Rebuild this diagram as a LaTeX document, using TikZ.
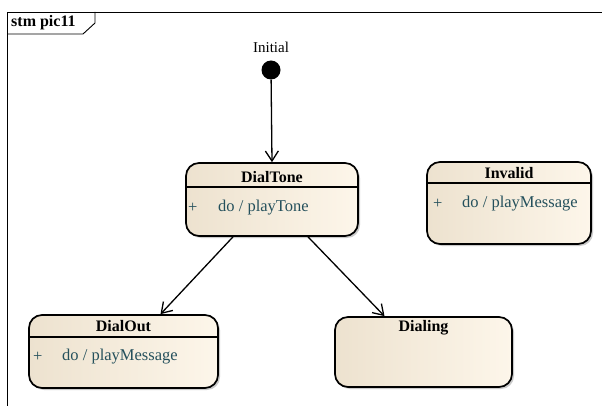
\documentclass[tikz,border=0pt]{standalone}
\usepackage{fontspec}
\setmainfont{Liberation Serif}
\usepackage{tikz}
\usetikzlibrary{arrows.meta,shadows,positioning}

\definecolor{stateleft}{HTML}{EDE2CF}
\definecolor{stateright}{HTML}{FDF6EA}
\definecolor{optext}{HTML}{24505C}

\tikzset{
  state/.style={draw, line width=1.7pt, rounded corners=13pt, inner sep=0pt,
    left color=stateleft, right color=stateright,
    drop shadow={shadow xshift=2pt, shadow yshift=-2pt, opacity=0.35, fill=black!60}},
  statename/.style={font=\fontsize{16}{19}\selectfont\bfseries, inner sep=0pt},
  opline/.style={font=\fontsize{16.5}{19}\selectfont, text=optext, inner sep=0pt, anchor=west},
  trans/.style={line width=1.3pt, -{Straight Barb[length=10pt,width=13pt,line width=1.3pt]}}
}

\begin{document}
\begin{tikzpicture}[x=1pt,y=-1pt]
			\useasboundingbox (0,0) rectangle (602,406);

			% frame
			\draw[line width=0.9pt] (7,406) -- (7,12) -- (602,12);
			\draw[line width=0.9pt] (7,34) -- (83,34) -- (95,23) -- (95,12);
			\node[font=\fontsize{16}{19}\selectfont\bfseries, anchor=west, inner sep=0pt] (frametitle) at (11,23) {stm pic11};

			% initial
			\node[circle, fill=black, minimum size=19pt, inner sep=0pt] (init) at (271,70) {};
			\node[font=\fontsize{15}{18}\selectfont, inner sep=0pt] (initlabel) at (271,47) {Initial};

			% states
			\node[state, minimum width=172pt, minimum height=73pt] (dialtone) at (272,199.5) {};
			\node[state, minimum width=164pt, minimum height=82pt] (invalid) at (509,203) {};
			\node[state, minimum width=189pt, minimum height=73pt] (dialout) at (123.5,351.5) {};
			\node[state, minimum width=177pt, minimum height=70pt] (dialing) at (423.5,352) {};

			\draw[line width=1.3pt] (dialtone.west |- 0,187) -- (dialtone.east |- 0,187);
			\draw[line width=1.3pt] (invalid.west |- 0,183) -- (invalid.east |- 0,183);
			\draw[line width=1.3pt] (dialout.west |- 0,337) -- (dialout.east |- 0,337);

			\node[statename] (dialtonename) at (272,177) {DialTone};
			\node[statename] (invalidname) at (509,173) {Invalid};
			\node[statename] (dialoutname) at (123.5,326) {DialOut};
			\node[statename] (dialingname) at (423.5,328) {Dialing};

			\node[opline] (dialtoneplus) at (188,208) {+};
			\node[opline] (dialtoneop) at (218,208) {do / playTone};
			\node[opline] (invalidplus) at (433,204) {+};
			\node[opline] (invalidop) at (462,204) {do / playMessage};
			\node[opline] (dialoutplus) at (33,357) {+};
			\node[opline] (dialoutop) at (62,357) {do / playMessage};

			% transitions
			\draw[trans] (init) -- (dialtone.north);
			\draw[trans] ([xshift=-39pt]dialtone.south) -- ([xshift=37pt]dialout.north);
			\draw[trans] ([xshift=36pt]dialtone.south) -- ([xshift=-39pt]dialing.north);
\end{tikzpicture}
\end{document}
